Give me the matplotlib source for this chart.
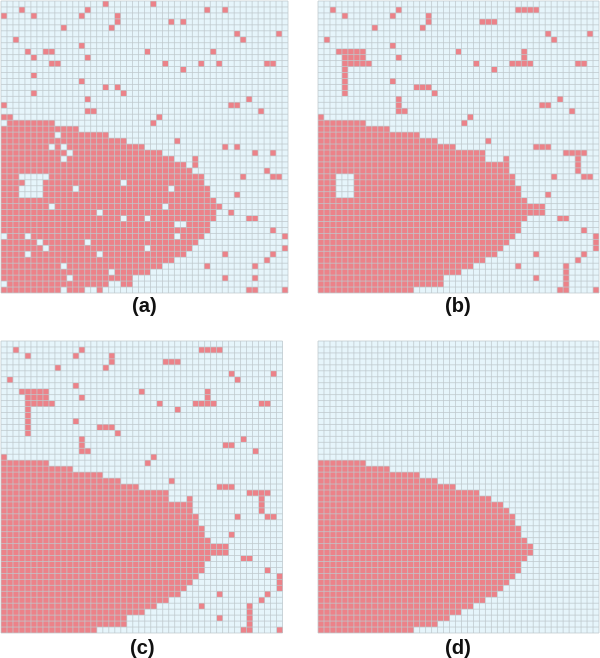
import numpy as np
import matplotlib
matplotlib.use("Agg")
import matplotlib.pyplot as plt
from matplotlib.colors import ListedColormap

W, H = 600, 658
FRONT_START = 19
labels = ["(a)", "(b)", "(c)", "(d)"]

a_front = [2, 9, 13, 18, 21, 24, 27, 29, 31, 32, 34, 34, 35, 35, 36, 37, 36, 36, 35, 35, 34, 33, 32, 31, 29, 27, 25, 22, 22, 17]
b_front = [1, 8, 12, 17, 20, 23, 28, 28, 32, 32, 33, 33, 34, 34, 35, 38, 38, 35, 34, 34, 33, 32, 31, 30, 28, 26, 24, 21, 21, 16]
c_front = list(b_front)
d_front = [0, 8, 12, 17, 20, 23, 27, 29, 31, 32, 33, 33, 34, 34, 35, 36, 36, 35, 34, 34, 33, 32, 31, 30, 28, 26, 24, 22, 20, 16]

a_extra = {0: [17, 25], 1: [3, 14, 34, 37], 2: [0, 5, 13, 19], 3: [19, 28, 30], 4: [10, 18],
           5: [39, 46], 6: [2, 40], 7: [13], 8: [4, 7, 8, 24, 35], 9: [5, 14],
           10: [8, 9, 27, 33, 36, 44, 45], 11: [30], 12: [5], 13: [13], 14: [17, 19],
           15: [5, 20], 16: [14, 41], 17: [0, 38, 39], 18: [14, 15, 43], 19: [26],
           20: [25], 23: [29], 24: [37, 39], 25: [42, 45], 26: [32], 27: [32], 28: [44],
           29: [40, 45, 46], 32: [39], 35: [38], 36: [41, 42], 38: [45], 39: [47],
           41: [47], 42: [37, 45], 43: [44], 44: [34, 42], 46: [37, 42],
           48: [41, 42, 47]}
a_holes = {20: [0], 22: [9], 24: [8, 10], 25: [11], 26: [10], 29: [3, 4, 5, 6, 7],
           30: [4, 5, 6, 20], 31: [3, 4, 5, 6, 12, 28], 32: [3, 4, 5, 6],
           34: [8, 27], 35: [16], 36: [20, 24], 37: [29, 30], 39: [0, 4, 29],
           40: [6, 14], 41: [7, 24], 42: [4, 16], 44: [10], 45: [18], 46: [11],
           47: [0, 18, 19], 48: [10, 14, 15]}

bc_extra = {1: [2, 13, 33, 34, 35, 36], 2: [4, 12, 18], 3: [18, 27, 28, 29], 4: [9, 17],
            5: [38, 45], 6: [1, 39], 7: [12], 8: [3, 4, 5, 6, 7, 23, 34],
            9: [4, 5, 6, 7, 13, 34], 10: [4, 5, 6, 7, 8, 26, 32, 33, 34, 35, 43, 44],
            11: [4, 29], 12: [4], 13: [4, 12], 14: [4, 16, 17, 18], 15: [4, 19],
            16: [13, 40], 17: [13, 37, 38], 18: [13, 14, 42], 19: [25], 20: [24],
            23: [28], 24: [36, 37, 38], 25: [41, 42, 43, 44], 26: [31, 43], 27: [43],
            28: [43], 29: [39, 44, 45], 32: [38], 36: [40, 41], 38: [44], 39: [46],
            40: [46], 41: [46], 42: [36, 44], 43: [43], 44: [33, 41], 45: [41],
            46: [36, 41], 47: [41], 48: [40, 41, 46]}
b_holes = {29: [3, 4, 5], 30: [3, 4, 5], 31: [3, 4, 5], 32: [3, 4, 5]}

RED = "#EC8289"
BLUE = "#E6F5FB"
GRID = "#BFC9CD"


def build(front, extra, holes, ncols, nrows=49):
    m = np.zeros((nrows, ncols), dtype=int)
    for i, n in enumerate(front):
        m[FRONT_START + i, :n] = 1
    for r, cols in extra.items():
        m[r, cols] = 1
    for r, cols in holes.items():
        m[r, cols] = 0
    return m


panels = [
    (build(a_front, a_extra, a_holes, 48), (1, 1, 288, 293), labels[0], 144, 307),
    (build(b_front, bc_extra, b_holes, 47), (318, 1, 599, 293), labels[1], 458, 307),
    (build(c_front, bc_extra, {}, 47), (1, 341, 282.5, 633), labels[2], 142, 648),
    (build(d_front, {}, {}, 47), (318, 341, 599, 633), labels[3], 458, 648),
]

fig = plt.figure(figsize=(W / 100, H / 100), dpi=100, facecolor="white")
cmap = ListedColormap([BLUE, RED])
for m, (x0, y0, x1, y1), lab, lx, ly in panels:
    ax = fig.add_axes([x0 / W, 1 - y1 / H, (x1 - x0) / W, (y1 - y0) / H])
    nr, nc = m.shape
    ax.pcolormesh(m, cmap=cmap, vmin=0, vmax=1, linewidth=0, rasterized=False)
    for art in (
        ax.vlines(np.arange(nc + 1), 0, nr, colors=GRID, linewidth=0.62, alpha=0.85),
        ax.hlines(np.arange(nr + 1), 0, nc, colors=GRID, linewidth=0.62, alpha=0.85),
    ):
        art.set_snap(False)
        art.set_antialiased(True)
        art.set_clip_on(False)
    ax.set_xlim(0, nc)
    ax.set_ylim(nr, 0)
    ax.axis("off")
    fig.text(lx / W, 1 - ly / H, lab, ha="center", va="center", fontsize=14.5,
             fontweight="bold", family="Liberation Sans", color="#111111")

fig.savefig("out.png", dpi=100)
